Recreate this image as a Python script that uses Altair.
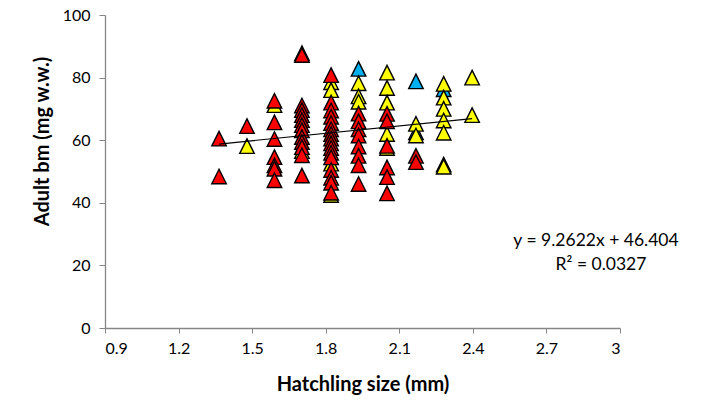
import altair as alt
import pandas as pd

# Column positions read against the x axis (mm)
red_x = ([1.365] * 2 + [1.479] * 1 + [1.591] * 7 + [1.703] * 13 + [1.822] * 16
         + [1.934] * 8 + [2.050] * 6 + [2.168] * 2)
red_y = [60.5, 48.4,
         64.5,
         72.6, 65.7, 60.4, 54.6, 52.0, 50.9, 47.2,
         87.8, 87.2, 71.1, 69.6, 68.0, 66.4, 64.8, 63.2, 61.0, 59.4, 57.8, 55.2, 48.7,
         80.8, 72.0, 69.5, 67.5, 65.5, 63.5, 62.0, 60.5, 59.0, 57.5, 56.0, 54.5, 50.5, 48.0, 46.4, 43.2,
         68.5, 66.0, 63.5, 61.5, 58.0, 55.0, 52.0, 46.0,
         68.4, 66.0, 58.2, 51.3, 48.2, 43.0,
         55.0, 53.0]

yellow_x = ([1.479] + [1.591] + [1.703] + [1.822] * 4 + [1.934] * 3 + [2.050] * 5
            + [2.168] * 2 + [2.281] * 7 + [2.397] * 2)
yellow_y = [58.1,
            71.2,
            56.5,
            78.5, 76.0, 52.5, 42.5,
            78.2, 74.0, 72.3,
            81.6, 76.7, 72.0, 62.0, 57.5,
            65.2, 61.5,
            78.0, 73.6, 70.0, 66.3, 62.4, 52.2, 51.5,
            80.0, 68.0]

blue_x = [1.934, 2.168, 2.168, 2.281]
blue_y = [82.8, 78.8, 62.5, 76.3]

series_names = ["blue", "yellow", "red"]
series_colors = ["#00B0F0", "#FFFF00", "#FF0000"]

x_ticks = [0.9, 1.2, 1.5, 1.8, 2.1, 2.4, 2.7, 3.0]
y_ticks = [0, 20, 40, 60, 80, 100]

eq_text = ["y = 9.2622x + 46.404", "R² = 0.0327"]

rows = []
for name, xs, ys in (("blue", blue_x, blue_y), ("yellow", yellow_x, yellow_y), ("red", red_x, red_y)):
    for a, b in zip(xs, ys):
        rows.append({"x": a, "y": b, "series": name})
df = pd.DataFrame(rows)

xscale = alt.Scale(domain=[0.9, 3.0], nice=False, zero=False)
yscale = alt.Scale(domain=[0, 100], nice=False)

base = alt.Chart(df)

points = base.mark_point(
    shape="M0,-1L-1,1L1,1Z", filled=True, size=210, opacity=1,
    stroke="black", strokeWidth=1.4
).encode(
    x=alt.X("x:Q", scale=xscale, axis=alt.Axis(
        values=x_ticks, format=".1~f", title="Hatchling size (mm)",
        titleY=56, titleBaseline="middle", labelPadding=7, tickSize=5)),
    y=alt.Y("y:Q", scale=yscale, axis=alt.Axis(
        values=y_ticks, title="Adult bm (mg w.w.)", titleX=-63, titleY=126,
        titleBaseline="middle", labelPadding=9, tickSize=6)),
    fill=alt.Fill("series:N", scale=alt.Scale(domain=series_names, range=series_colors), legend=None),
)

trend = base.transform_regression("x", "y", method="linear").mark_line(
    color="black", strokeWidth=1.2
).encode(x=alt.X("x:Q", scale=xscale), y=alt.Y("y:Q", scale=yscale))

eq_df = pd.DataFrame({"t": eq_text, "row": [0, 1]})
eq1 = alt.Chart(eq_df).transform_filter("datum.row == 0").mark_text(
    fontSize=17.5, align="center", baseline="middle", color="black"
).encode(text="t:N", x=alt.value(491), y=alt.value(226))
eq2 = alt.Chart(eq_df).transform_filter("datum.row == 1").mark_text(
    fontSize=17.5, align="center", baseline="middle", color="black"
).encode(text="t:N", x=alt.value(496), y=alt.value(250))

chart = alt.layer(points, trend, eq1, eq2).properties(
    width=515, height=313,
    autosize=alt.AutoSizeParams(type="none"),
    padding={"left": 105, "top": 15, "right": 86, "bottom": 76},
    background="white",
).configure(font="Lato").configure_view(stroke=None).configure_axis(
    grid=False, domainColor="#868686", tickColor="#868686", domainWidth=1.3,
    labelColor="black", labelFontSize=16, labelFont="Lato",
    titleColor="black", titleFontSize=20, titleFont="Lato", titleFontWeight="bold",
)

chart.save("out.html", embed_options={"renderer": "svg", "actions": False})
